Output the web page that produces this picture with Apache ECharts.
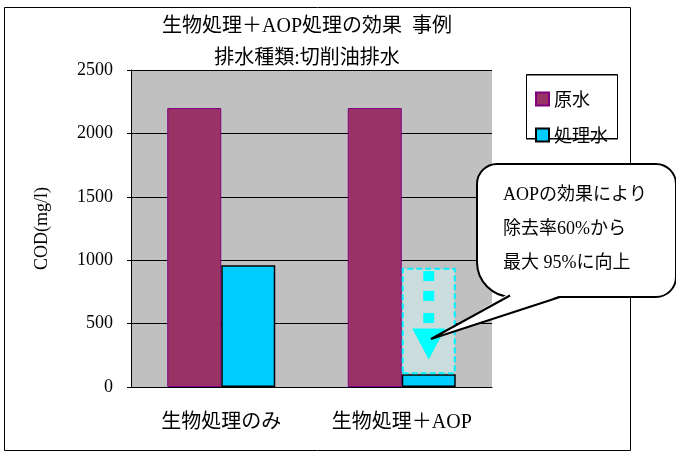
<!DOCTYPE html>
<html>
<head>
<meta charset="utf-8">
<script src="https://cdn.jsdelivr.net/npm/echarts@6/dist/echarts.min.js"></script>
<style>
  html, body { margin: 0; padding: 0; background: #fff; }
  #main { width: 676px; height: 459px; }
</style>
</head>
<body>
<div id="main"></div>
<script>
// データ
var categories = ['生物処理のみ', '生物処理＋AOP'];
var seriesNames = ['原水', '処理水'];
var rawWater = [2200, 2200];
var treated = [960, 100];
var beforeAop = ['-', 840];           // 点線の枠（AOP前の処理水）
var arrowDots = [875, 718, 544];      // 点線矢印の四角
var arrowHead = [339];                // 矢印の先
var bubbleLines = ['AOPの効果により', '除去率60%から', '最大 95%に向上'];

var serif = '"Liberation Serif", "Noto Sans CJK JP"';
var gothic = '"Noto Sans CJK JP", "Noto Sans"';

var chart = echarts.init(document.getElementById('main'));

var marks = [];
for (var i = 0; i < arrowDots.length; i++) {
    marks.push({ coord: [1, arrowDots[i]], symbol: 'rect', symbolSize: [11, 10] });
}
marks.push({ coord: [1, arrowHead[0]], symbol: 'triangle', symbolSize: [33, 31], symbolRotate: 180 });

var option = {
    backgroundColor: '#fff',
    animation: false,
    title: [{
        text: '生物処理＋AOP処理の効果  事例',
        left: 302, top: 12, textAlign: 'center',
        textStyle: { fontFamily: serif, fontSize: 20, fontWeight: 'normal', color: '#000' }
    }, {
        text: '排水種類:切削油排水',
        left: 302, top: 44, textAlign: 'center',
        textStyle: { fontFamily: serif, fontSize: 20, fontWeight: 'normal', color: '#000' }
    }],
    legend: {
        data: seriesNames,
        orient: 'vertical',
        left: 530, top: 85,
        itemGap: 18,
        icon: 'rect',
        itemWidth: 13, itemHeight: 13,
        textStyle: { fontFamily: gothic, fontSize: 18, color: '#000' }
    },
    grid: {
        left: 131, top: 70, width: 361, height: 317,
        show: true, backgroundColor: '#c0c0c0', borderWidth: 0
    },
    xAxis: {
        type: 'category',
        data: categories,
        axisLine: { lineStyle: { color: '#000', width: 1 } },
        axisTick: { inside: true, length: 6, lineStyle: { color: '#000' } },
        axisLabel: { interval: 0, margin: 26, fontFamily: serif, fontSize: 20, color: '#000' }
    },
    yAxis: {
        type: 'value',
        min: 0, max: 2500, interval: 500,
        name: 'COD(mg/l)',
        nameLocation: 'middle',
        nameRotate: 90,
        nameGap: 80,
        nameTextStyle: { fontFamily: serif, fontSize: 18, color: '#000' },
        axisLine: { show: true, lineStyle: { color: '#000' } },
        axisTick: { show: true, length: 4, lineStyle: { color: '#000' } },
        axisLabel: {
            margin: 18, fontFamily: serif, fontSize: 18, color: '#000',
            formatter: function (v) { return String(v); }
        },
        splitLine: { lineStyle: { color: '#000', width: 1 } }
    },
    series: [{
        name: '原水',
        type: 'bar',
        data: rawWater,
        barWidth: 54,
        barGap: '0%',
        itemStyle: { color: '#993366', borderColor: '#800080', borderWidth: 1 }
    }, {
        name: '処理水',
        type: 'bar',
        stack: 't',
        data: treated,
        barWidth: 54,
        itemStyle: { color: '#00ccff', borderColor: '#000', borderWidth: 1.5 }
    }, {
        name: 'before',
        type: 'bar',
        stack: 't',
        data: beforeAop,
        barWidth: 54,
        itemStyle: { color: '#cbdcdc', borderColor: '#00f0ff', borderWidth: 2, borderType: [6, 3] },
        markPoint: {
            label: { show: false },
            itemStyle: { color: '#00ffff' },
            data: marks
        }
    }],
    graphic: [{
        type: 'rect', z: -1, silent: true,
        shape: { x: 4.5, y: 7.5, width: 626, height: 443 },
        style: { fill: 'none', stroke: '#000', lineWidth: 1 }
    }, {
        type: 'rect', z: 1, silent: true,
        shape: { x: 526.5, y: 74.5, width: 91, height: 64 },
        style: { fill: 'none', stroke: '#000', lineWidth: 1, shadowColor: 'rgba(0,0,0,0.5)', shadowOffsetY: 1 }
    }, {
        type: 'rect', z: 100, silent: true,
        shape: { x: 477, y: 164, width: 199, height: 133, r: [20, 20, 20, 35] },
        style: { fill: '#fff', stroke: '#000', lineWidth: 2 }
    }, {
        type: 'polygon', z: 101, silent: true,
        shape: { points: [[508, 294], [431, 339], [562, 295]] },
        style: { fill: '#fff' }
    }, {
        type: 'polyline', z: 102, silent: true,
        shape: { points: [[510, 295.5], [431, 339], [560, 297]] },
        style: { fill: null, stroke: '#000', lineWidth: 2 }
    }, {
        type: 'text', z: 103, silent: true,
        x: 503, y: 178,
        style: {
            text: bubbleLines.join('\n'),
            font: '18px ' + serif,
            lineHeight: 34,
            fill: '#000'
        }
    }]
};

chart.setOption(option);
</script>
</body>
</html>
